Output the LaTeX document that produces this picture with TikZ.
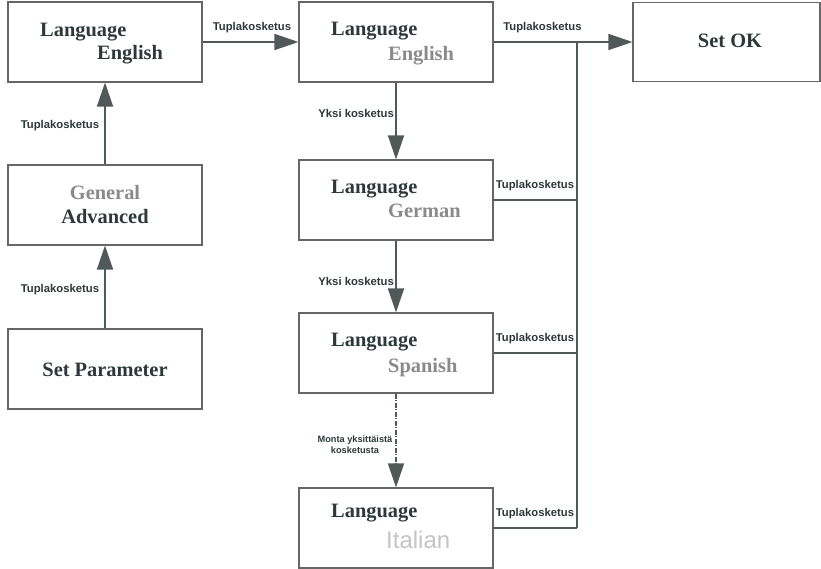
\documentclass[tikz,border=0pt]{standalone}
\usepackage{fontspec}
\setmainfont{Liberation Serif}
\newfontfamily\lsans{Liberation Sans}
\usetikzlibrary{arrows.meta}
\definecolor{txtdark}{HTML}{2E3838}
\definecolor{txtgrey}{HTML}{8A8A8A}
\definecolor{txtlight}{HTML}{C4C4C4}
\definecolor{linecol}{HTML}{505858}
\definecolor{boxcol}{HTML}{666666}
\begin{document}
\begin{tikzpicture}[x=1pt,y=-1pt,
  box/.style={draw=boxcol,line width=1.1pt,minimum width=194pt,minimum height=80pt,inner sep=0pt},
  okbox/.style={box,minimum width=187pt,minimum height=79pt},
  bt/.style={font=\fontsize{20.4}{22}\selectfont\bfseries,text=txtdark,inner sep=0pt},
  gt/.style={font=\fontsize{20.4}{22}\selectfont\bfseries,text=txtgrey,inner sep=0pt},
  lbl/.style={font=\lsans\fontsize{11.3}{13}\selectfont\bfseries,text=txtdark,inner sep=0pt},
  conn/.style={draw=linecol,line width=1.6pt},
  arr/.style={conn,-{Triangle[length=24pt,width=16pt]},color=linecol},
]
\useasboundingbox (0,0) rectangle (821,569);
% boxes
\node[box] (A) at (105,42) {};
\node[box] (B) at (105,205) {};
\node[box] (C) at (105,369) {};
\node[box] (D) at (396,42) {};
\node[box] (E) at (396,200) {};
\node[box] (F) at (396,353) {};
\node[box] (G) at (396,528) {};
\node[okbox] (H) at (726.5,42) {};
% box texts
\node[bt,anchor=base west] (At1) at (40,37) {Language};
\node[bt,anchor=base west] (At2) at (97,60) {English};
\node[gt,anchor=base] (Bt1) at (105,200) {General};
\node[bt,anchor=base] (Bt2) at (105,224) {Advanced};
\node[bt,anchor=base] (Ct) at (105,376) {Set Parameter};
\node[bt,anchor=base west] (Dt1) at (331,36) {Language};
\node[gt,anchor=base west] (Dt2) at (388,61) {English};
\node[bt,anchor=base west] (Et1) at (331,194) {Language};
\node[gt,anchor=base west] (Et2) at (388,218) {German};
\node[bt,anchor=base west] (Ft1) at (331,346) {Language};
\node[gt,anchor=base west] (Ft2) at (388,372) {Spanish};
\node[bt,anchor=base west] (Gt1) at (331,517) {Language};
\node[font=\lsans\fontsize{24}{26}\selectfont,text=txtlight,inner sep=0pt,anchor=base west] (Gt2) at (386,548) {Italian};
\node[bt,anchor=base] (Ht) at (730,48) {Set OK};
% bus
\coordinate (busTop) at (577,42);
\coordinate (busE) at (577,200);
\coordinate (busF) at (577,353);
\coordinate (busG) at (577,528);
% connectors
\draw[arr] (B.north) -- (A.south);
\draw[arr] (C.north) -- (B.south);
\draw[arr] (A.east) -- (D.west);
\draw[arr] (D.south) -- (E.north);
\draw[arr] (E.south) -- (F.north);
\draw[arr,dash pattern=on 5pt off 1.5pt on 1pt off 1.5pt,line width=1.2pt] (F.south) -- (G.north);
\draw[arr] (D.east) -- (H.west);
\draw[conn] (busTop) -- (busG);
\draw[conn] (E.east) -- (busE);
\draw[conn] (F.east) -- (busF);
\draw[conn] (G.east) -- (busG);
% labels
\node[lbl,anchor=base] (l1) at (252,31) {Tuplakosketus};
\node[lbl,anchor=base] (l2) at (60,129) {Tuplakosketus};
\node[lbl,anchor=base] (l3) at (60,292) {Tuplakosketus};
\node[lbl,anchor=base east] (l4) at (394,118) {Yksi kosketus};
\node[lbl,anchor=base east] (l5) at (394,285) {Yksi kosketus};
\node[font=\lsans\fontsize{9.2}{11}\selectfont\bfseries,text=txtdark,inner sep=0pt,align=center,anchor=north] (l6) at (355,436) {Monta yksittäistä\\kosketusta};
\node[lbl,anchor=base] (l7) at (542.5,31) {Tuplakosketus};
\node[lbl,anchor=base] (l8) at (535,189) {Tuplakosketus};
\node[lbl,anchor=base] (l9) at (535,341) {Tuplakosketus};
\node[lbl,anchor=base] (l10) at (535,516) {Tuplakosketus};
\end{tikzpicture}
\end{document}
